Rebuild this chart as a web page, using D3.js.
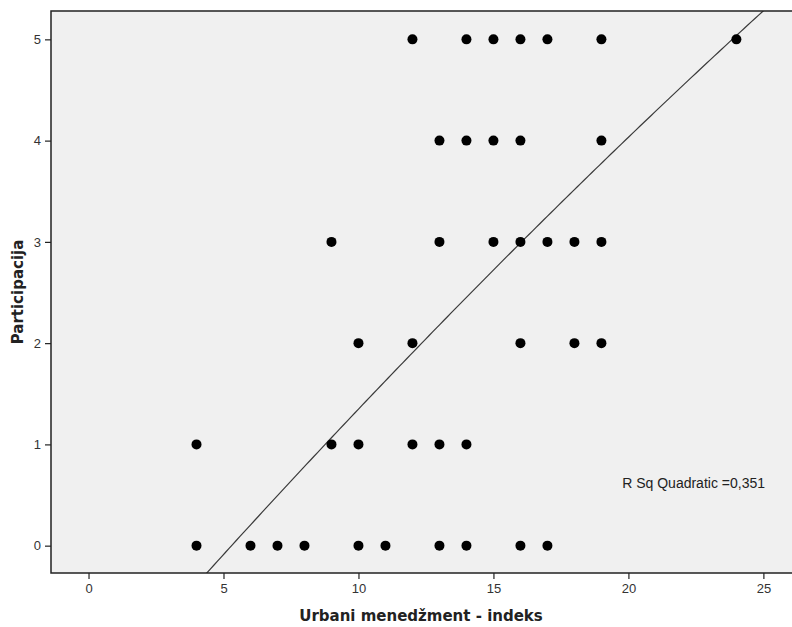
<!DOCTYPE html>
<html>
<head>
<meta charset="utf-8">
<script src="https://cdn.jsdelivr.net/npm/d3@7"></script>
<style>
  html, body { margin: 0; padding: 0; background: #fff; }
  svg { display: block; }
</style>
</head>
<body>
<svg id="chart" width="792" height="627"></svg>
<script>
// Observations: urban management index (x) against participation score (y)
const indeks = [
  12, 14, 15, 16, 17, 19, 24,
  13, 14, 15, 16, 19,
  9, 13, 15, 16, 17, 18, 19,
  10, 12, 16, 18, 19,
  4, 9, 10, 12, 13, 14,
  4, 6, 7, 8, 10, 11, 13, 14, 16, 17
];
const participacija = [
  5, 5, 5, 5, 5, 5, 5,
  4, 4, 4, 4, 4,
  3, 3, 3, 3, 3, 3, 3,
  2, 2, 2, 2, 2,
  1, 1, 1, 1, 1, 1,
  0, 0, 0, 0, 0, 0, 0, 0, 0, 0
];
// Quadratic fit coefficients: y = b0 + b1*x + b2*x^2
const fitCoef = [-1.586, 0.3059, -0.001247];
const xTicks = [0, 5, 10, 15, 20, 25];
const yTicks = [0, 1, 2, 3, 4, 5];
const fitLabel = "R Sq Quadratic =0,351";
const xTitle = "Urbani menedžment - indeks";
const yTitle = "Participacija";

const svg = d3.select("#chart");
const plot = { left: 51, top: 11, right: 792, bottom: 573 };

const x = d3.scaleLinear().domain([-1.39, 26.06]).range([plot.left, plot.right]);
const y = d3.scaleLinear().domain([-0.27, 5.28]).range([plot.bottom, plot.top]);

// Plot background
svg.append("rect")
  .attr("x", plot.left).attr("y", plot.top)
  .attr("width", plot.right - plot.left).attr("height", plot.bottom - plot.top)
  .attr("fill", "#f0f0f0");

svg.append("clipPath").attr("id", "plotclip")
  .append("rect")
  .attr("x", plot.left).attr("y", plot.top)
  .attr("width", plot.right - plot.left).attr("height", plot.bottom - plot.top);

// Fitted curve sampled across the x domain
const [xMin, xMax] = x.domain();
const fitted = d3.range(0, 201).map(i => {
  const xv = xMin + (xMax - xMin) * i / 200;
  return [xv, fitCoef[0] + fitCoef[1] * xv + fitCoef[2] * xv * xv];
});

svg.append("path")
  .datum(fitted)
  .attr("clip-path", "url(#plotclip)")
  .attr("fill", "none")
  .attr("stroke", "#3a3a3a")
  .attr("stroke-width", 1.2)
  .attr("d", d3.line().x(d => x(d[0])).y(d => y(d[1])));

// Points
svg.append("g")
  .selectAll("circle")
  .data(indeks.map((v, i) => [v, participacija[i]]))
  .join("circle")
  .attr("cx", d => x(d[0]))
  .attr("cy", d => y(d[1]))
  .attr("r", 5)
  .attr("fill", "#000");

// Fit label
svg.append("text")
  .attr("x", 765).attr("y", 488)
  .attr("text-anchor", "end")
  .attr("font-family", "Liberation Sans, Arial, sans-serif")
  .attr("font-size", 14)
  .attr("fill", "#222")
  .text(fitLabel);

// Axes
const xAxis = svg.append("g")
  .attr("transform", `translate(0,${plot.bottom})`)
  .call(d3.axisBottom(x).tickValues(xTicks).tickSize(6).tickPadding(5).tickFormat(d3.format("d")));
const yAxis = svg.append("g")
  .attr("transform", `translate(${plot.left},0)`)
  .call(d3.axisLeft(y).tickValues(yTicks).tickSize(6).tickPadding(4).tickFormat(d3.format("d")));

[xAxis, yAxis].forEach(g => {
  g.select(".domain").remove();
  g.selectAll(".tick line").attr("stroke", "#222").attr("stroke-width", 1.2);
  g.selectAll(".tick text")
    .attr("font-family", "Liberation Sans, Arial, sans-serif")
    .attr("font-size", 13)
    .attr("fill", "#333");
});

// Frame
svg.append("path")
  .attr("d", `M${plot.right},${plot.top}H${plot.left}V${plot.bottom}H${plot.right}`)
  .attr("fill", "none")
  .attr("stroke", "#222")
  .attr("stroke-width", 1.5);

// Axis titles
svg.append("text")
  .attr("x", 421).attr("y", 621)
  .attr("text-anchor", "middle")
  .attr("font-family", "DejaVu Sans, Verdana, sans-serif")
  .attr("font-weight", "bold")
  .attr("font-size", 15)
  .attr("fill", "#222")
  .text(xTitle);

svg.append("text")
  .attr("transform", "translate(23,292) rotate(-90)")
  .attr("text-anchor", "middle")
  .attr("font-family", "DejaVu Sans, Verdana, sans-serif")
  .attr("font-weight", "bold")
  .attr("font-size", 15)
  .attr("fill", "#222")
  .text(yTitle);
</script>
</body>
</html>
